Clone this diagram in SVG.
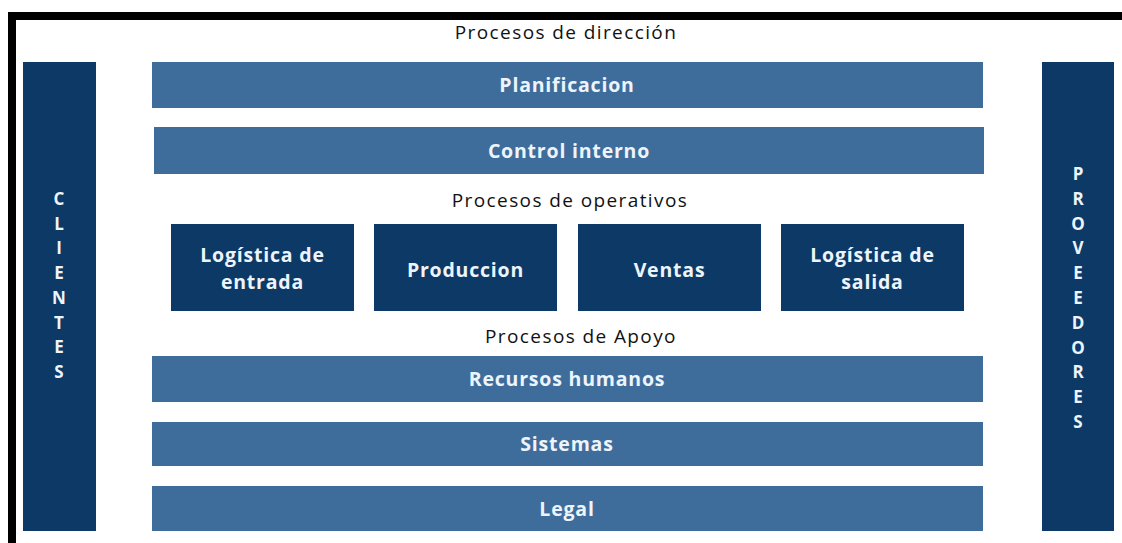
<svg xmlns="http://www.w3.org/2000/svg" width="1122" height="543" viewBox="0 0 1122 543">
<style>
.bar{fill:#3E6D9C}
.dark{fill:#0D3966}
.bt{font-family:"Open Sans","Noto Sans",sans-serif;font-weight:bold;font-size:19.5px;fill:#EEF4FB;text-anchor:middle;letter-spacing:0.8px}
.tt{font-family:"Open Sans","Noto Sans",sans-serif;font-size:19px;fill:#111;text-anchor:middle;letter-spacing:1.4px}
.vt{font-family:"Open Sans","Noto Sans",sans-serif;font-weight:bold;font-size:17px;fill:#EEF4FB;text-anchor:middle}
</style>
<rect width="1122" height="543" fill="#fff"/>
<g id="border">
<rect x="8" y="12" width="1114" height="8" fill="#000"/>
<rect x="8" y="12" width="8" height="531" fill="#000"/>
</g>
<g id="titles">
<text class="tt" x="566" y="39">Procesos de dirección</text>
<text class="tt" x="570" y="207">Procesos de operativos</text>
<text class="tt" x="581" y="343">Procesos de Apoyo</text>
</g>
<g id="clientes">
<rect class="dark" x="23" y="62" width="73" height="469"/>
<text class="vt" x="59"><tspan x="59" y="205">C</tspan><tspan x="59" y="230">L</tspan><tspan x="59" y="254">I</tspan><tspan x="59" y="279">E</tspan><tspan x="59" y="304">N</tspan><tspan x="59" y="329">T</tspan><tspan x="59" y="353">E</tspan><tspan x="59" y="378">S</tspan></text>
</g>
<g id="proveedores">
<rect class="dark" x="1042" y="62" width="72" height="469"/>
<text class="vt" x="1078"><tspan x="1078" y="180">P</tspan><tspan x="1078" y="205">R</tspan><tspan x="1078" y="230">O</tspan><tspan x="1078" y="254">V</tspan><tspan x="1078" y="279">E</tspan><tspan x="1078" y="304">E</tspan><tspan x="1078" y="329">D</tspan><tspan x="1078" y="354">O</tspan><tspan x="1078" y="378">R</tspan><tspan x="1078" y="403">E</tspan><tspan x="1078" y="428">S</tspan></text>
</g>
<g id="planificacion">
<rect class="bar" x="152" y="62" width="831" height="46"/>
<text class="bt" x="567" y="92">Planificacion</text>
</g>
<g id="control">
<rect class="bar" x="154" y="127" width="830" height="47"/>
<text class="bt" x="569" y="158">Control interno</text>
</g>
<g id="log-entrada">
<rect class="dark" x="171" y="224" width="183" height="87"/>
<text class="bt" x="262.5" y="262">Logística de</text>
<text class="bt" x="262.5" y="289">entrada</text>
</g>
<g id="produccion">
<rect class="dark" x="374" y="224" width="183" height="87"/>
<text class="bt" x="465.5" y="277">Produccion</text>
</g>
<g id="ventas">
<rect class="dark" x="578" y="224" width="183" height="87"/>
<text class="bt" x="669.5" y="277">Ventas</text>
</g>
<g id="log-salida">
<rect class="dark" x="781" y="224" width="183" height="87"/>
<text class="bt" x="872.5" y="262">Logística de</text>
<text class="bt" x="872.5" y="289">salida</text>
</g>
<g id="rrhh">
<rect class="bar" x="152" y="356" width="831" height="46"/>
<text class="bt" x="567" y="386">Recursos humanos</text>
</g>
<g id="sistemas">
<rect class="bar" x="152" y="422" width="831" height="44"/>
<text class="bt" x="567" y="451">Sistemas</text>
</g>
<g id="legal">
<rect class="bar" x="152" y="486" width="831" height="45"/>
<text class="bt" x="567" y="516">Legal</text>
</g>
<g id="connectors"></g>
</svg>
